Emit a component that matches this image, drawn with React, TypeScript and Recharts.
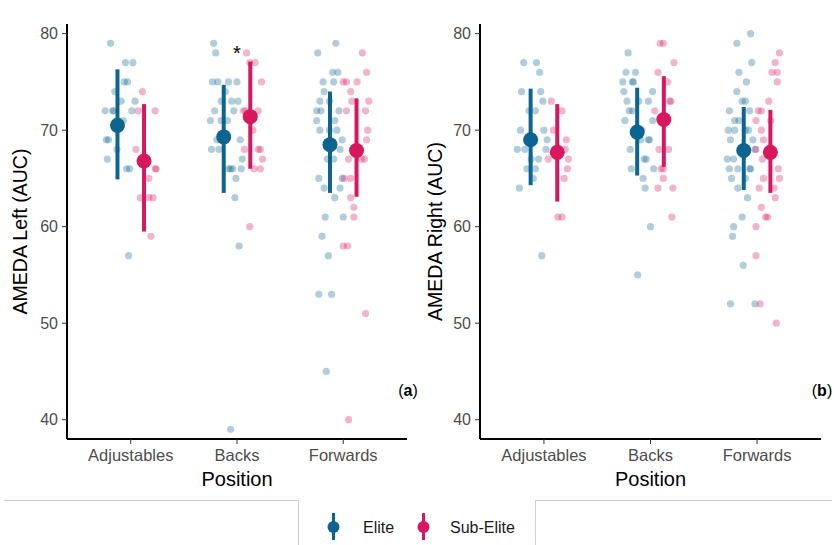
import React from "react";
import { ScatterChart, Scatter, XAxis, YAxis, ErrorBar } from "recharts";

const categories = ["Adjustables", "Backs", "Forwards"];
const yTicks = [40, 50, 60, 70, 80];

const ELITE = "#0b6590";
const SUB = "#d8175f";
const DODGE = 0.125;

// pointrange summaries (mean, lower, upper) per position
const leftEliteMean = [70.5, 69.3, 68.5];
const leftEliteLow = [64.9, 63.5, 63.5];
const leftEliteHigh = [76.3, 74.7, 74.0];
const leftSubMean = [66.8, 71.4, 67.9];
const leftSubLow = [59.5, 66.0, 63.1];
const leftSubHigh = [72.7, 77.1, 73.3];

const rightEliteMean = [69.0, 69.8, 67.9];
const rightEliteLow = [64.3, 65.3, 63.8];
const rightEliteHigh = [74.3, 74.4, 72.4];
const rightSubMean = [67.7, 71.1, 67.7];
const rightSubLow = [62.6, 66.2, 63.5];
const rightSubHigh = [72.7, 75.6, 72.1];

// jittered raw points [x position, AUC]
const leftElitePts: [number, number][] = [
  [0.81, 79], [0.95, 77], [1.02, 77], [0.94, 75], [0.97, 75], [0.85, 74], [0.91, 73], [1.04, 73],
  [0.76, 72], [0.83, 72], [0.84, 72], [1.01, 72], [0.93, 71], [0.77, 69], [0.79, 69], [0.87, 68],
  [0.78, 67], [0.96, 66], [0.99, 66], [0.98, 57],
  [1.78, 79], [1.8, 78], [1.77, 75], [1.82, 75], [1.92, 75], [2.0, 75], [1.89, 74], [1.85, 73],
  [1.95, 73], [2.01, 73], [1.79, 72], [1.97, 72], [1.75, 71], [1.85, 71], [1.91, 71], [1.81, 69],
  [2.03, 69], [1.76, 68], [1.83, 68], [2.05, 67], [1.92, 66], [1.94, 66], [1.96, 66], [2.04, 66],
  [1.99, 65], [1.98, 63], [2.02, 58], [1.94, 39],
  [2.93, 79], [2.76, 78], [2.9, 76], [2.95, 76], [2.81, 75], [2.91, 75], [2.82, 74], [2.78, 73],
  [2.87, 73], [2.75, 72], [2.79, 72], [2.96, 72], [2.75, 71], [2.92, 71], [2.78, 70], [2.87, 70],
  [2.94, 70], [2.99, 69], [2.97, 68], [2.85, 67], [2.91, 67], [2.77, 65], [2.99, 65], [2.82, 64],
  [2.97, 64], [2.92, 63], [2.83, 61], [3.0, 61], [2.8, 59], [2.86, 57], [2.77, 53], [2.89, 53],
  [2.84, 45],
];
const leftSubPts: [number, number][] = [
  [1.11, 74], [1.07, 72], [1.23, 72], [1.05, 68], [1.23, 66], [1.24, 66], [1.17, 65], [1.09, 63],
  [1.17, 63], [1.21, 63], [1.19, 59],
  [2.09, 78], [2.12, 77], [2.17, 77], [2.23, 75], [2.06, 72], [2.08, 72], [2.2, 72], [2.15, 70],
  [2.07, 68], [2.2, 68], [2.22, 68], [2.24, 67], [2.16, 66], [2.22, 66], [2.12, 60],
  [3.18, 78], [3.22, 76], [3.0, 75], [3.03, 75], [3.13, 75], [3.07, 74], [3.08, 73], [3.24, 73],
  [3.03, 72], [3.21, 72], [3.23, 70], [3.22, 69], [3.05, 67], [3.17, 67], [3.2, 67], [3.01, 65],
  [3.07, 65], [3.07, 63], [3.1, 62], [3.1, 61], [3.0, 58], [3.04, 58], [3.21, 51], [3.05, 40],
];
const rightElitePts: [number, number][] = [
  [0.81, 77], [0.93, 77], [0.96, 76], [0.79, 74], [0.97, 74], [0.99, 73], [0.86, 72], [0.92, 72],
  [0.78, 70], [1.0, 70], [1.03, 69], [0.75, 68], [0.82, 68], [1.02, 68], [0.88, 67], [0.95, 67],
  [0.84, 66], [0.92, 66], [0.9, 65], [0.77, 64], [0.98, 57],
  [1.79, 78], [1.77, 76], [1.86, 76], [1.74, 75], [1.83, 75], [1.84, 75], [1.75, 74], [2.02, 74],
  [1.78, 73], [1.89, 73], [1.98, 73], [1.8, 72], [1.83, 72], [1.76, 71], [2.02, 71], [1.92, 70],
  [1.91, 69], [1.98, 69], [1.99, 69], [1.81, 68], [1.94, 67], [1.96, 67], [1.82, 66], [2.03, 66],
  [1.93, 65], [1.95, 64], [2.0, 60], [1.88, 55],
  [2.94, 80], [2.81, 79], [2.95, 77], [2.83, 76], [2.9, 75], [2.81, 74], [2.86, 73], [2.89, 73],
  [2.74, 72], [2.93, 72], [2.79, 71], [2.83, 71], [2.73, 70], [2.79, 70], [2.89, 70], [2.92, 70],
  [2.75, 69], [2.96, 69], [2.98, 68], [2.72, 67], [2.78, 67], [2.74, 66], [2.82, 66], [2.93, 66],
  [2.94, 66], [2.76, 65], [2.89, 65], [2.82, 64], [2.91, 63], [2.86, 61], [2.78, 60], [2.77, 59],
  [2.87, 56], [2.75, 52], [2.98, 52],
];
const rightSubPts: [number, number][] = [
  [1.07, 73], [1.17, 72], [1.09, 70], [1.21, 69], [1.2, 68], [1.04, 67], [1.23, 67], [1.22, 66],
  [1.19, 65], [1.13, 61], [1.17, 61],
  [2.09, 79], [2.12, 79], [2.22, 77], [2.07, 76], [2.16, 75], [2.18, 73], [2.19, 73], [2.04, 72],
  [2.08, 68], [2.17, 68], [2.1, 66], [2.12, 66], [2.12, 65], [2.07, 64], [2.21, 64], [2.2, 61],
  [3.21, 78], [3.17, 77], [3.14, 76], [3.19, 76], [3.19, 75], [3.11, 73], [3.01, 72], [3.04, 72],
  [2.99, 71], [3.13, 71], [3.04, 70], [3.06, 69], [2.99, 68], [3.05, 67], [3.2, 66], [3.21, 65],
  [3.06, 65], [3.02, 64], [3.16, 64], [3.17, 63], [3.04, 62], [3.08, 61], [3.1, 61], [2.99, 60],
  [2.99, 57], [3.03, 52], [3.18, 50],
];

const FONT = "'Liberation Sans', Arial, sans-serif";

const toPts = (pts: [number, number][]) => pts.map(([x, y]) => ({ x, y }));

const toMeans = (mean: number[], low: number[], high: number[], shift: number) =>
  mean.map((m, i) => ({
    x: i + 1 + shift,
    y: m,
    err: [m - low[i], high[i] - m],
  }));

const dot = (color: string, r: number, opacity: number) => (p: any) =>
  p.cx == null ? <g /> : <circle cx={p.cx} cy={p.cy} r={r} fill={color} fillOpacity={opacity} />;

function Panel({
  title,
  elitePts,
  subPts,
  eliteMean,
  eliteLow,
  eliteHigh,
  subMean,
  subLow,
  subHigh,
  star,
  width,
  marginRight,
  yAxisWidth,
}: any) {
  return (
    <ScatterChart
      width={width}
      height={500}
      margin={{ top: 24, right: marginRight, bottom: 6, left: 10 }}
      style={{ fontFamily: FONT }}
    >
      <XAxis
        type="number"
        dataKey="x"
        domain={[0.4, 3.6]}
        ticks={[1, 2, 3]}
        allowDataOverflow
        tickFormatter={(v: number) => categories[v - 1]}
        axisLine={{ stroke: "#000", strokeWidth: 2 }}
        tickLine={{ stroke: "#333" }}
        tickSize={5}
        tickMargin={5}
        tick={{ fill: "#4d4d4d", fontSize: 16.5 }}
        height={55}
        label={{ value: "Position", position: "insideBottom", offset: 8, fill: "#000", fontSize: 20 }}
      />
      <YAxis
        type="number"
        dataKey="y"
        domain={[38, 81]}
        ticks={yTicks}
        allowDataOverflow
        width={yAxisWidth}
        axisLine={{ stroke: "#000", strokeWidth: 2 }}
        tickLine={{ stroke: "#333" }}
        tickSize={5}
        tickMargin={4}
        tick={{ fill: "#4d4d4d", fontSize: 16 }}
        label={{
          value: title,
          angle: -90,
          position: "insideLeft",
          offset: 10,
          fill: "#000",
          fontSize: 19.5,
          style: { textAnchor: "middle" },
        }}
      />
      <Scatter data={toPts(elitePts)} shape={dot(ELITE, 3.6, 0.32)} isAnimationActive={false} />
      <Scatter data={toPts(subPts)} shape={dot(SUB, 3.6, 0.32)} isAnimationActive={false} />
      <Scatter
        data={toMeans(eliteMean, eliteLow, eliteHigh, -DODGE)}
        shape={dot(ELITE, 7.5, 1)}
        isAnimationActive={false}
      >
        <ErrorBar dataKey="err" direction="y" width={0} stroke={ELITE} strokeWidth={4} isAnimationActive={false} />
      </Scatter>
      <Scatter
        data={toMeans(subMean, subLow, subHigh, DODGE)}
        shape={dot(SUB, 7.5, 1)}
        isAnimationActive={false}
      >
        <ErrorBar dataKey="err" direction="y" width={0} stroke={SUB} strokeWidth={4} isAnimationActive={false} />
      </Scatter>
      {star && (
        <Scatter
          data={[{ x: 2, y: 78.5 }]}
          isAnimationActive={false}
          shape={(p: any) => (
            <text x={p.cx} y={p.cy} dy={11.6} textAnchor="middle" fontSize={20} fill="#000" fontFamily={FONT}>
              *
            </text>
          )}
        />
      )}
    </ScatterChart>
  );
}

export default function App() {
  return (
    <div
      style={{
        position: "absolute",
        left: 0,
        top: 0,
        width: 834,
        height: 545,
        background: "#fff",
        fontFamily: FONT,
        overflow: "hidden",
      }}
    >
      <div style={{ position: "absolute", left: 0, top: 0 }}>
        <Panel
          title="AMEDA Left (AUC)"
          elitePts={leftElitePts}
          subPts={leftSubPts}
          eliteMean={leftEliteMean}
          eliteLow={leftEliteLow}
          eliteHigh={leftEliteHigh}
          subMean={leftSubMean}
          subLow={leftSubLow}
          subHigh={leftSubHigh}
          star
          width={415}
          marginRight={8}
          yAxisWidth={57}
        />
      </div>
      <div style={{ position: "absolute", left: 415, top: 0 }}>
        <Panel
          title="AMEDA Right (AUC)"
          elitePts={rightElitePts}
          subPts={rightSubPts}
          eliteMean={rightEliteMean}
          eliteLow={rightEliteLow}
          eliteHigh={rightEliteHigh}
          subMean={rightSubMean}
          subLow={rightSubLow}
          subHigh={rightSubHigh}
          width={419}
          marginRight={13}
          yAxisWidth={55}
        />
      </div>
      <svg
        width={834}
        height={545}
        style={{ position: "absolute", left: 0, top: 0, pointerEvents: "none" }}
      >
        <text x={408} y={396} textAnchor="middle" fontSize={16} fill="#000" fontFamily={FONT}>
          (<tspan fontWeight="bold">a</tspan>)
        </text>
        <text x={822} y={396} textAnchor="middle" fontSize={16} fill="#000" fontFamily={FONT}>
          (<tspan fontWeight="bold">b</tspan>)
        </text>
        <polyline points="4,500.5 298.5,500.5 298.5,545" fill="none" stroke="#d0d0d0" strokeWidth={1} />
        <polyline points="535.5,545 535.5,500.5 832,500.5" fill="none" stroke="#d0d0d0" strokeWidth={1} />
        <line x1={333.5} y1={513} x2={333.5} y2={540} stroke={ELITE} strokeWidth={3} />
        <circle cx={333.5} cy={527} r={6} fill={ELITE} />
        <text x={363} y={533} fontSize={16} fill="#1a1a1a" fontFamily={FONT}>
          Elite
        </text>
        <line x1={423.5} y1={513} x2={423.5} y2={540} stroke={SUB} strokeWidth={3} />
        <circle cx={423.5} cy={527} r={6} fill={SUB} />
        <text x={450} y={533} fontSize={16} fill="#1a1a1a" fontFamily={FONT}>
          Sub-Elite
        </text>
      </svg>
    </div>
  );
}
